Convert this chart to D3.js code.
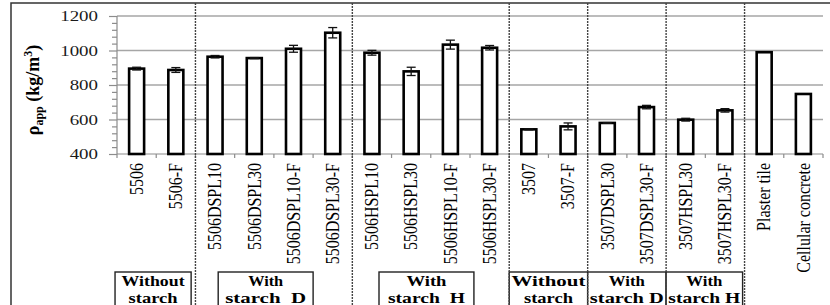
<!DOCTYPE html>
<html>
<head>
<meta charset="utf-8">
<script src="https://cdnjs.cloudflare.com/ajax/libs/d3/7.8.5/d3.min.js"></script>
<style>
  body { margin: 0; background: #fff; }
  svg { display: block; }
</style>
</head>
<body>
<div id="chart"></div>
<script>
// data
const samples = ["5506", "5506-F", "5506DSPL10", "5506DSPL30", "5506DSPL10-F", "5506DSPL30-F",
                 "5506HSPL10", "5506HSPL30", "5506HSPL10-F", "5506HSPL30-F",
                 "3507", "3507-F", "3507DSPL30", "3507DSPL30-F", "3507HSPL30", "3507HSPL30-F",
                 "Plaster tile", "Cellular concrete"];
const density = [895, 887, 964, 956, 1010, 1103, 987, 879, 1034, 1016,
                 543, 560, 580, 672, 599, 653, 990, 748];
const errors  = [8, 14, 7, 3, 20, 30, 14, 24, 26, 13, 3, 20, 2, 10, 8, 10, 0, 0];
const yTicks  = [400, 600, 800, 1000, 1200];
// group separators (after these bar indices)
const separators = [2, 6, 10, 12, 14, 16];
// group boxes below the labels: span in bar units, two lines of text
const boxSpan  = [[-0.05, 1.89], [2.58, 5.0], [6.68, 9.1], [10, 12], [12, 14], [14, 15.95]];
const boxLine1 = ["Without", "With", "With", "Without", "With", "With"];
const boxLine2 = ["starch", "starch\u00a0\u00a0D", "starch\u00a0\u00a0H", "starch", "starch D", "starch H"];
const line1Len = [63, 35, 40, 74, 36, 36];
const line2Len = [49, 81, 77, 49, 74, 72];

const W = 830, H = 305;
const mLeft = 117, mRight = 823, mTop = 16, mBottom = 154;

const svg = d3.select("#chart").append("svg")
              .attr("width", W)
              .attr("height", H);

const x = d3.scaleBand().domain(samples).range([mLeft, mRight]).paddingInner(0).paddingOuter(0);
const xi = d3.scaleLinear().domain([0, samples.length]).range([mLeft, mRight]);
const y = d3.scaleLinear().domain([400, 1200]).range([mBottom, mTop]);

// outer frame
svg.append("path")
   .attr("d", "M11," + (H + 2) + "V3H" + (W + 2))
   .attr("fill", "none")
   .attr("stroke", "#333")
   .attr("stroke-width", 1.5);

// gridlines
svg.append("g")
   .selectAll("line")
   .data(yTicks.slice(1))
   .enter().append("line")
   .attr("x1", mLeft).attr("x2", mRight)
   .attr("y1", d => y(d)).attr("y2", d => y(d))
   .attr("stroke", "#a6a6a6")
   .attr("stroke-width", 1.3);

// y axis with minor ticks every 40
const yAxis = svg.append("g")
   .attr("transform", "translate(" + mLeft + ",0)")
   .call(d3.axisLeft(y).tickValues(d3.range(400, 1201, 40)).tickSize(5).tickFormat(""));
yAxis.selectAll("line, path").attr("stroke", "#8c8c8c").attr("stroke-width", 1.2);
yAxis.select(".domain").attr("d", "M0," + mTop + "V" + mBottom);
yAxis.selectAll(".tick line").filter(d => yTicks.includes(d)).attr("x2", -8);

// y tick labels (stretched like the picture)
svg.append("g")
   .selectAll("text")
   .data(yTicks)
   .enter().append("text")
   .attr("transform", d => "translate(98," + y(d) + ") scale(1.35,1)")
   .attr("text-anchor", "end")
   .attr("dy", "0.36em")
   .attr("font-family", "Liberation Serif, Times New Roman, serif")
   .attr("font-size", 14)
   .attr("fill", "#1a1a1a")
   .text(d => d);

// x axis
const xAxis = svg.append("g")
   .attr("transform", "translate(0," + mBottom + ")");
xAxis.append("line")
     .attr("x1", mLeft).attr("x2", mRight)
     .attr("stroke", "#8c8c8c").attr("stroke-width", 1.2);
xAxis.selectAll("line.tk")
     .data(d3.range(samples.length + 1))
     .enter().append("line")
     .attr("class", "tk")
     .attr("x1", d => xi(d)).attr("x2", d => xi(d))
     .attr("y1", 0).attr("y2", 4)
     .attr("stroke", "#8c8c8c").attr("stroke-width", 1.2);

// bars
const bw = 15;
svg.append("g")
   .selectAll("rect")
   .data(samples)
   .enter().append("rect")
   .attr("x", d => x(d) + x.bandwidth() / 2 - bw / 2)
   .attr("y", (d, i) => y(density[i]))
   .attr("width", bw)
   .attr("height", (d, i) => mBottom - y(density[i]))
   .attr("fill", "#fff")
   .attr("stroke", "#000")
   .attr("stroke-width", 2.6);

// error bars
const eb = svg.append("g").attr("stroke", "#111").attr("stroke-width", 1.3);
samples.forEach((s, i) => {
  if (!errors[i]) return;
  const cx = x(s) + x.bandwidth() / 2;
  const y1 = y(density[i] + errors[i]), y0 = y(density[i] - errors[i]);
  eb.append("line").attr("x1", cx).attr("x2", cx).attr("y1", y1).attr("y2", y0);
  eb.append("line").attr("x1", cx - 4.5).attr("x2", cx + 4.5).attr("y1", y1).attr("y2", y1);
  eb.append("line").attr("x1", cx - 4.5).attr("x2", cx + 4.5).attr("y1", y0).attr("y2", y0);
});

// x labels, rotated
svg.append("g")
   .selectAll("text")
   .data(samples)
   .enter().append("text")
   .attr("transform", d => "translate(" + (x(d) + x.bandwidth() / 2) + ",163) scale(1.15,1) rotate(-90)")
   .attr("text-anchor", "end")
   .attr("dy", "0.34em")
   .attr("font-family", "Liberation Serif, Times New Roman, serif")
   .attr("font-size", 16)
   .attr("fill", "#000")
   .text(d => d);

// group boxes
const boxes = svg.append("g")
   .selectAll("g")
   .data(boxSpan)
   .enter().append("g");
boxes.append("rect")
     .attr("x", d => xi(d[0]))
     .attr("y", 272)
     .attr("width", d => xi(d[1]) - xi(d[0]))
     .attr("height", 45)
     .attr("fill", "#fff")
     .attr("stroke", "#222")
     .attr("stroke-width", 1.4);
boxes.append("text")
     .attr("x", d => (xi(d[0]) + xi(d[1])) / 2)
     .attr("y", 286)
     .attr("text-anchor", "middle")
     .attr("textLength", (d, i) => line1Len[i])
     .attr("lengthAdjust", "spacingAndGlyphs")
     .attr("font-family", "Liberation Serif, Times New Roman, serif")
     .attr("font-weight", "bold")
     .attr("font-size", 15)
     .text((d, i) => boxLine1[i]);
boxes.append("text")
     .attr("x", d => (xi(d[0]) + xi(d[1])) / 2)
     .attr("y", 302.5)
     .attr("text-anchor", "middle")
     .attr("textLength", (d, i) => line2Len[i])
     .attr("lengthAdjust", "spacingAndGlyphs")
     .attr("font-family", "Liberation Serif, Times New Roman, serif")
     .attr("font-weight", "bold")
     .attr("font-size", 15)
     .text((d, i) => boxLine2[i]);

// dashed separators
svg.append("g")
   .selectAll("line")
   .data(separators)
   .enter().append("line")
   .attr("x1", d => xi(d)).attr("x2", d => xi(d))
   .attr("y1", 3).attr("y2", H)
   .attr("stroke", "#444")
   .attr("stroke-width", 1.4)
   .attr("stroke-dasharray", "2,1");

// y axis title
const yt = svg.append("text")
   .attr("transform", "translate(39,90) rotate(-90)")
   .attr("text-anchor", "middle")
   .attr("font-family", "Liberation Serif, Times New Roman, serif")
   .attr("font-weight", "bold")
   .attr("font-size", 18)
   .attr("fill", "#000");
yt.append("tspan").text("\u03c1");
yt.append("tspan").attr("font-size", 12).attr("dy", 4).text("app");
yt.append("tspan").attr("dy", -4).text(" (kg/m");
yt.append("tspan").attr("font-size", 12).attr("dy", -7).text("3");
yt.append("tspan").attr("dy", 7).text(")");
</script>
</body>
</html>
